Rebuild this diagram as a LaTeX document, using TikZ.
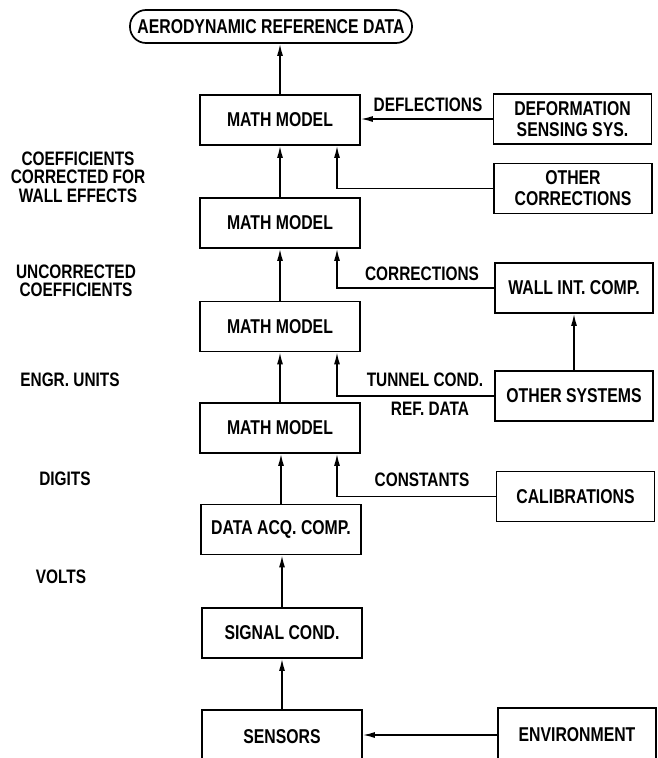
\documentclass[tikz,border=0pt]{standalone}
\usepackage{fontspec}
\usepackage{tikz}
\usetikzlibrary{arrows.meta}
\newfontfamily\diagfont{Liberation Sans}[FakeStretch=0.79]
\tikzstyle{block}=[draw, line width=1.7pt, minimum width=160pt, minimum height=50pt, inner sep=0pt, align=center, font=\diagfont\bfseries\fontsize{20}{21}\selectfont]
\tikzstyle{side} = [block, minimum width=158pt]
\tikzstyle{goal} = [block, rounded corners=16pt, minimum width=282pt, minimum height=33pt]
\tikzstyle{tag} = [inner sep=0pt, align=center, font=\diagfont\bfseries\fontsize{19.5}{18.5}\selectfont]
\tikzstyle{feed} = [draw, line width=1.5pt, -{Latex[length=12pt,width=6pt]}]

\begin{document}
\begin{tikzpicture}[x=1pt, y=-1pt]

	\useasboundingbox (0,0) rectangle (657,758);

	\node[goal] (goal) at (271,26.5) {AERODYNAMIC REFERENCE DATA};

	% main column
	\node[block] (mm_1) at (280,120) {MATH MODEL};
	\node[block] (mm_2) at (280,223) {MATH MODEL};
	\node[block] (mm_3) at (280,326.5) {MATH MODEL};
	\node[block] (mm_4) at (280,428) {MATH MODEL};
	\node[block] (daq) at (281,529.5) {DATA ACQ. COMP.};
	\node[block] (sig) at (282,633) {SIGNAL COND.};
	\node[block, minimum height=54pt] (sens) at (282,737) {SENSORS};

	% side systems
	\node[side] (deform) at (572.5,119) {DEFORMATION\\SENSING SYS.};
	\node[side] (corr) at (573,188.5) {OTHER\\CORRECTIONS};
	\node[side] (wall) at (574,288) {WALL INT. COMP.};
	\node[side] (othsys) at (574,396) {OTHER SYSTEMS};
	\node[side] (calib) at (575.5,496.5) {CALIBRATIONS};
	\node[side, minimum height=54pt] (env) at (577,735) {ENVIRONMENT};

	% levels
	\node[tag] (lvl_1) at (78,177) {COEFFICIENTS\\CORRECTED FOR\\WALL EFFECTS};
	\node[tag] (lvl_2) at (76,281) {UNCORRECTED\\COEFFICIENTS};
	\node[tag] (lvl_3) at (70,380) {ENGR. UNITS};
	\node[tag] (lvl_4) at (65,479) {DIGITS};
	\node[tag] (lvl_5) at (61,577) {VOLTS};

	\foreach \a/\b in {sens/sig, sig/daq, daq/mm_4, mm_4/mm_3, mm_3/mm_2, mm_2/mm_1, mm_1/goal}{
		\draw[feed] (\a.north) -- (\a.north |- \b.south);
	}

	\foreach \src/\dst in {corr/mm_1, wall/mm_2, othsys/mm_3, calib/mm_4}{
		\draw[feed] (\src.west) -| ([xshift=57pt]\dst.south);
	}

	\draw[feed] (deform.west) -- (deform.west -| mm_1.east);
	\draw[feed] (othsys) -- (wall);
	\draw[feed] (env.west) -- (env.west -| sens.east);

	\node[tag] (t_defl) at (428,105) {DEFLECTIONS};
	\node[tag] (t_corr) at (422,274) {CORRECTIONS};
	\node[tag] (t_tunnel) at (425,380) {TUNNEL COND.};
	\node[tag] (t_ref) at (430,409) {REF. DATA};
	\node[tag] (t_const) at (422,480) {CONSTANTS};
\end{tikzpicture}
\end{document}
